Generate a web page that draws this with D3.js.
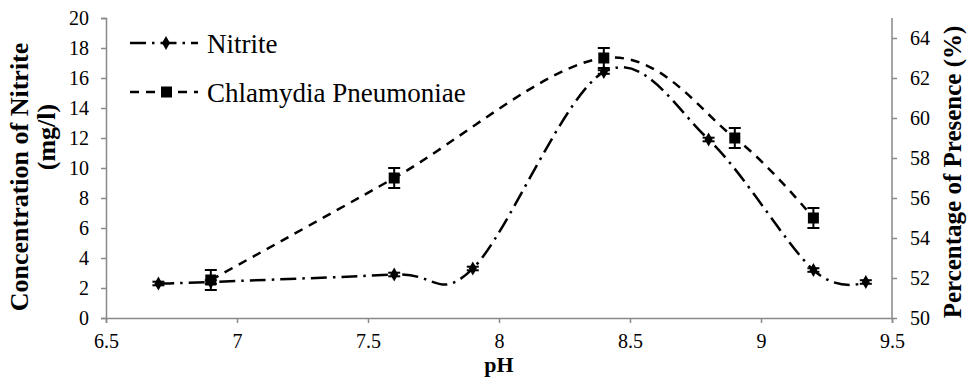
<!DOCTYPE html>
<html>
<head>
<meta charset="utf-8">
<script src="https://cdn.jsdelivr.net/npm/d3@7"></script>
<style>
  html, body { margin: 0; padding: 0; background: #fff; }
  svg { display: block; }
  svg text { font-family: "Liberation Serif", "Times New Roman", Times, serif; }
</style>
</head>
<body>
<svg id="chart" width="972" height="378"></svg>
<script>
// pH readings and measured values
const nitritePH = [6.7, 6.9, 7.6, 7.9, 8.4, 8.8, 9.2, 9.4];
const nitriteVal = [2.3, 2.4, 2.9, 3.3, 16.4, 11.9, 3.2, 2.4];
const nitriteErr = [0.12, 0.12, 0.12, 0.12, 0.12, 0.12, 0.12, 0.12];

const chlamPH = [6.9, 7.6, 8.4, 8.9, 9.2];
const chlamVal = [51.9, 57.0, 63.0, 59.0, 55.0];
const chlamErr = [0.5, 0.5, 0.5, 0.5, 0.5];

const xTicks = [6.5, 7, 7.5, 8, 8.5, 9, 9.5];
const yLeftTicks = [0, 2, 4, 6, 8, 10, 12, 14, 16, 18, 20];
const yRightTicks = [50, 52, 54, 56, 58, 60, 62, 64];

const seriesNames = ["Nitrite", "Chlamydia Pneumoniae"];

const FONT = "Liberation Serif";
const svg = d3.select("#chart").attr("font-family", FONT);
const plotLeft = 106, plotRight = 892, plotTop = 18, plotBottom = 318;
const axisColor = "#898989";

const x = d3.scaleLinear().domain([6.5, 9.5]).range([plotLeft, plotRight]);
const yL = d3.scaleLinear().domain([0, 20]).range([plotBottom, plotTop]);
const yR = d3.scaleLinear().domain([50, 65]).range([plotBottom, plotTop]);

function styleAxis(g) {
  g.attr("font-family", FONT).attr("font-size", 20);
  g.select(".domain").attr("stroke", axisColor).attr("stroke-width", 1.5);
  g.selectAll(".tick line").attr("stroke", axisColor).attr("stroke-width", 1.5);
  g.selectAll(".tick text").attr("fill", "#000").attr("font-family", FONT).attr("font-size", 20);
}

// x axis
svg.append("g").attr("transform", `translate(0,${plotBottom})`)
  .call(d3.axisBottom(x).tickValues(xTicks).tickFormat(d3.format("")).tickSizeOuter(0).tickSize(5).tickPadding(11))
  .call(styleAxis);

// left axis
svg.append("g").attr("transform", `translate(${plotLeft},0)`)
  .call(d3.axisLeft(yL).tickValues(yLeftTicks).tickSizeOuter(0).tickSize(5).tickPadding(12))
  .call(styleAxis);

// right axis
const rAxis = svg.append("g").attr("transform", `translate(${plotRight},0)`)
  .call(d3.axisRight(yR).tickValues(yRightTicks).tickSizeOuter(0).tickSize(5).tickPadding(13))
  .call(styleAxis);
// extend right axis line to the top of the plot
rAxis.select(".domain").attr("d", `M0,${plotBottom}V${plotTop}`);

// axis titles
svg.append("text")
  .attr("x", x(8)).attr("y", 372)
  .attr("text-anchor", "middle")
  .attr("font-weight", "bold").attr("font-size", 22)
  .text("pH");

svg.append("text")
  .attr("transform", "translate(28,177) rotate(-90)")
  .attr("text-anchor", "middle")
  .attr("font-weight", "bold").attr("font-size", 26)
  .text("Concentration of Nitrite");
svg.append("text")
  .attr("transform", "translate(55,137) rotate(-90)")
  .attr("text-anchor", "middle")
  .attr("font-weight", "bold").attr("font-size", 26)
  .text("(mg/l)");

svg.append("text")
  .attr("transform", "translate(961,172) rotate(-90)")
  .attr("text-anchor", "middle")
  .attr("font-weight", "bold").attr("font-size", 25)
  .text("Percentage of Presence (%)");

// series data
const nitrite = nitritePH.map((p, i) => ({ p, v: nitriteVal[i], e: nitriteErr[i] }));
const chlam = chlamPH.map((p, i) => ({ p, v: chlamVal[i], e: chlamErr[i] }));

const smooth = d3.curveCatmullRom.alpha(0);

const lineN = d3.line().x(d => x(d.p)).y(d => yL(d.v)).curve(smooth);
const lineC = d3.line().x(d => x(d.p)).y(d => yR(d.v)).curve(smooth);

const dashN = "16,6,2.5,6";
const dashC = "9,7";

svg.append("path").datum(chlam)
  .attr("d", lineC).attr("fill", "none").attr("stroke", "#000")
  .attr("stroke-width", 2.5).attr("stroke-dasharray", dashC);

svg.append("path").datum(nitrite)
  .attr("d", lineN).attr("fill", "none").attr("stroke", "#000")
  .attr("stroke-width", 2.5).attr("stroke-dasharray", dashN);

// error bars
function errorBars(data, yScale, cap) {
  const g = svg.append("g").attr("stroke", "#000").attr("stroke-width", 2);
  data.forEach(d => {
    const cx = x(d.p), y1 = yScale(d.v + d.e), y2 = yScale(d.v - d.e);
    g.append("line").attr("x1", cx).attr("x2", cx).attr("y1", y1).attr("y2", y2);
    g.append("line").attr("x1", cx - cap).attr("x2", cx + cap).attr("y1", y1).attr("y2", y1);
    g.append("line").attr("x1", cx - cap).attr("x2", cx + cap).attr("y1", y2).attr("y2", y2);
  });
}
errorBars(chlam, yR, 6);
errorBars(nitrite, yL, 6);

// markers
const diamond = d3.symbol().type(d3.symbolDiamond).size(55);
svg.append("g").selectAll("path").data(nitrite).join("path")
  .attr("d", diamond)
  .attr("transform", d => `translate(${x(d.p)},${yL(d.v)})`)
  .attr("fill", "#000");

svg.append("g").selectAll("rect").data(chlam).join("rect")
  .attr("x", d => x(d.p) - 5.5).attr("y", d => yR(d.v) - 5.5)
  .attr("width", 11).attr("height", 11).attr("fill", "#000");

// legend
const legend = svg.append("g");
const legendY = [43, 92];
const legendDash = [dashN, dashC];
seriesNames.forEach((name, i) => {
  const g = legend.append("g").attr("transform", `translate(0,${legendY[i]})`);
  g.append("line").attr("x1", 130).attr("x2", 198).attr("y1", 0).attr("y2", 0)
    .attr("stroke", "#000").attr("stroke-width", 2.5).attr("stroke-dasharray", legendDash[i]);
  if (i === 0) {
    g.append("path").attr("d", diamond).attr("transform", "translate(166,0)").attr("fill", "#000");
  } else {
    g.append("rect").attr("x", 161).attr("y", -5.5).attr("width", 11).attr("height", 11).attr("fill", "#000");
  }
  g.append("text").attr("x", 207).attr("y", 10)
    .attr("font-size", 27).text(name);
});
</script>
</body>
</html>
